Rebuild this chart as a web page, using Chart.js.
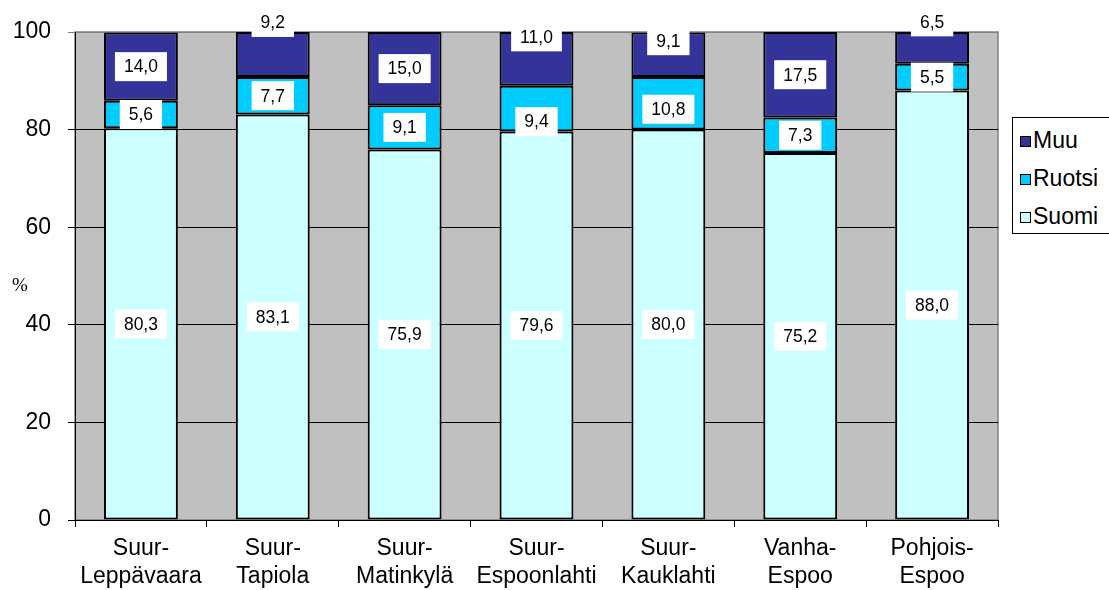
<!DOCTYPE html>
<html>
<head>
<meta charset="utf-8">
<script src="https://cdn.jsdelivr.net/npm/chart.js@4/dist/chart.umd.min.js"></script>
<style>
  html, body { margin: 0; padding: 0; background: #fff; }
  #wrap { position: relative; width: 1109px; height: 590px; font-family: "Liberation Sans", Arial, sans-serif; }
  #legend { position: absolute; left: 1012px; top: 117px; width: 110px; height: 117px; border: 1px solid #000; background: #fff; box-sizing: border-box; }
  #legend div { position: absolute; left: 7px; font-size: 23px; line-height: 24px; color: #000; white-space: nowrap; }
  #legend span { display: inline-block; width: 9px; height: 9px; border: 1.5px solid #000; margin-right: 2px; vertical-align: 1px; }
</style>
</head>
<body>
<div id="wrap">
  <canvas id="myChart" width="1109" height="590"></canvas>
  <div id="legend"></div>
</div>
<script>
// alueet ja osuudet (%)
const areas = [['Suur-', 'Leppävaara'], ['Suur-', 'Tapiola'], ['Suur-', 'Matinkylä'], ['Suur-', 'Espoonlahti'], ['Suur-', 'Kauklahti'], ['Vanha-', 'Espoo'], ['Pohjois-', 'Espoo']];
const suomi = [80.3, 83.1, 75.9, 79.6, 80.0, 75.2, 88.0];
const ruotsi = [5.6, 7.7, 9.1, 9.4, 10.8, 7.3, 5.5];
const muu = [14.0, 9.2, 15.0, 11.0, 9.1, 17.5, 6.5];
const yTicks = [0, 20, 40, 60, 80, 100];

// siirretyt nimiöt (px), kuten alkuperäisessä
const labelNudge = {
  1: [0, 0, 0, 13, 6, 0, 0],
  2: [0, -32, 0, -22, -14, 0, -26]
};

const bgPlugin = {
  id: 'bg',
  beforeDraw(chart) {
    const a = chart.chartArea, c = chart.ctx;
    c.save();
    c.fillStyle = '#c0c0c0';
    c.fillRect(a.left, a.top, a.right - a.left, a.bottom - a.top);
    c.strokeStyle = '#808080';
    c.lineWidth = 1.5;
    c.strokeRect(a.left, a.top, a.right - a.left, a.bottom - a.top);
    c.restore();
  },
  afterDraw(chart) {
    const c = chart.ctx;
    c.save();
    c.font = '19px "Liberation Serif", "Times New Roman", serif';
    c.fillStyle = '#000';
    c.textAlign = 'center';
    c.textBaseline = 'middle';
    c.fillText('%', 20, 286);
    // arvonimiöt valkoisissa laatikoissa
    c.font = '17.5px "Liberation Sans", Arial, sans-serif';
    chart.data.datasets.forEach((ds, di) => {
      const meta = chart.getDatasetMeta(di);
      meta.data.forEach((bar, i) => {
        const txt = ds.data[i].toFixed(1).replace('.', ',');
        const y = (bar.y + bar.base) / 2 + ((labelNudge[di] || [])[i] || 0);
        const w = c.measureText(txt).width + 18;
        const h = 29;
        c.fillStyle = '#fff';
        c.fillRect(bar.x - w / 2, y - h / 2, w, h);
        c.fillStyle = '#000';
        c.fillText(txt, bar.x, y + 1);
      });
    });
    c.restore();
  }
};

const ctx = document.getElementById('myChart').getContext('2d');
const myChart = new Chart(ctx, {
  type: 'bar',
  data: {
    labels: areas,
    datasets: [{
      label: 'Suomi',
      data: suomi,
      backgroundColor: '#ccffff',
      borderColor: '#000',
      borderWidth: 2,
      borderSkipped: false
    }, {
      label: 'Ruotsi',
      data: ruotsi,
      backgroundColor: '#00ccff',
      borderColor: '#000',
      borderWidth: 2,
      borderSkipped: false
    }, {
      label: 'Muu',
      data: muu,
      backgroundColor: '#333399',
      borderColor: '#000',
      borderWidth: 2,
      borderSkipped: false
    }]
  },
  options: {
    responsive: false,
    animation: false,
    layout: { padding: { top: 32, right: 111, left: 0, bottom: 0 } },
    plugins: { legend: { display: false }, tooltip: { enabled: false } },
    datasets: { bar: { categoryPercentage: 1, barPercentage: 0.56 } },
    scales: {
      x: {
        stacked: true,
        afterFit(s) { s.height = 70; },
        grid: { offset: true, drawOnChartArea: false, tickLength: 7, color: '#000' },
        border: { color: '#000', width: 1 },
        ticks: { color: '#000', padding: 8, font: { size: 23, family: '"Liberation Sans", Arial, sans-serif', lineHeight: 1.2 }, maxRotation: 0 }
      },
      y: {
        stacked: true,
        min: 0,
        max: 100,
        afterFit(s) { s.width = 75; },
        afterBuildTicks(s) { s.ticks = yTicks.map(v => ({ value: v })); },
        grid: { tickLength: 7, color: ctx2 => ctx2.tick && ctx2.tick.value === 100 ? '#808080' : '#000', lineWidth: 1 },
        border: { color: '#000', width: 1 },
        ticks: { color: '#000', padding: 17, font: { size: 23, family: '"Liberation Sans", Arial, sans-serif' } }
      }
    }
  },
  plugins: [bgPlugin]
});

// selite (käänteinen järjestys)
const legend = document.getElementById('legend');
myChart.data.datasets.slice().reverse().forEach((ds, i) => {
  const d = document.createElement('div');
  d.style.top = (10 + i * 38) + 'px';
  d.innerHTML = '<span style="background:' + ds.backgroundColor + '"></span>' + ds.label;
  legend.appendChild(d);
});
</script>
</body>
</html>
